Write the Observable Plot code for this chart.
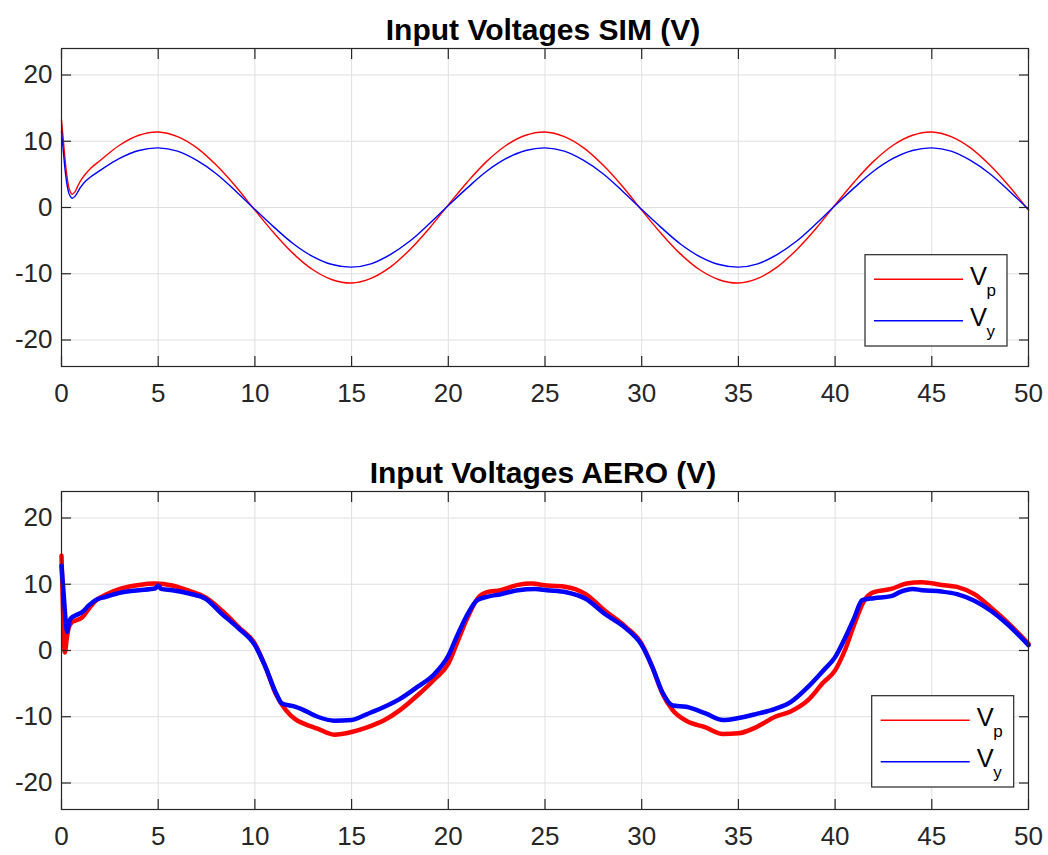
<!DOCTYPE html>
<html><head><meta charset="utf-8">
<script src="https://cdn.jsdelivr.net/npm/d3@7"></script>
<script src="https://cdn.jsdelivr.net/npm/@observablehq/plot@0.6"></script>
<style>
html,body{margin:0;padding:0;background:#fff;}
#root{position:relative;width:1048px;height:855px;overflow:hidden;font-family:"Liberation Sans",Arial,sans-serif;}
.plot{position:absolute;left:0;}
#overlay{position:absolute;left:0;top:0;}
</style></head><body><div id="root"></div>
<script>
// ---------- data ----------
const tSim = [0,0.1,0.2,0.3,0.4,0.55,0.7,0.85,1,1.25,1.5,2,
  3,4,5,6,7,8,9,10,11,12,13,14,15,16,17,18,19,20,21,22,23,24,25,26,27,28,29,30,
  31,32,33,34,35,36,37,38,39,40,41,42,43,44,45,46,47,48,49,50];
const vpSim = [13.2,10.0,6.8,4.4,2.8,2.0,2.4,3.3,4.1,5.1,5.9,7.1,
  9.4,10.9,11.4,10.7,9.0,6.4,3.2,-0.4,
  -3.9,-7.0,-9.4,-10.9,-11.4,-10.7,-9.0,-6.4,-3.2,0.4,
  3.9,7.0,9.4,10.9,11.4,10.7,9.0,6.4,3.2,-0.4,
  -3.9,-7.0,-9.4,-10.9,-11.4,-10.7,-9.0,-6.4,-3.2,0.4,
  3.9,7.0,9.4,10.9,11.4,10.7,9.0,6.4,3.2,-0.4];
const vySim = [11.5,8.3,5.3,3.2,2.0,1.4,1.7,2.4,3.1,4.0,4.6,5.6,
  7.4,8.6,9.0,8.5,7.1,5.1,2.5,-0.3,
  -3.0,-5.5,-7.4,-8.6,-9.0,-8.5,-7.1,-5.1,-2.5,0.3,
  3.0,5.5,7.4,8.6,9.0,8.5,7.1,5.1,2.5,-0.3,
  -3.0,-5.5,-7.4,-8.6,-9.0,-8.5,-7.1,-5.1,-2.5,0.3,
  3.0,5.5,7.4,8.6,9.0,8.5,7.1,5.1,2.5,-0.3];

const tAeroP = [0,0.08,0.17,0.28,0.38,0.55,0.72,1.07,1.41,1.76,2.28,3.14,4.0,4.86,5.72,6.6,7.45,8.3,9.17,10.0,
  10.55,11.07,11.6,12.1,12.5,13.24,14.1,15.0,15.8,16.7,17.5,18.4,19.3,20.0,20.5,21.0,21.5,22.0,22.7,23.6,24.3,
  25.1,26.1,27.1,28.1,29.2,30.0,30.55,31.07,31.6,32.3,33.3,34.2,35.0,35.9,36.9,37.7,38.6,39.4,40.0,40.5,41.0,
  41.5,42.0,42.9,43.7,44.5,45.5,46.3,47.2,48.05,48.9,50];
const vpAero = [14.3,6.0,-0.3,2.0,3.5,4.3,4.5,5.0,6.3,7.5,8.4,9.4,9.9,10.1,9.8,9.0,8.0,6.0,3.5,1.0,
  -2.5,-6.5,-9.0,-10.4,-11.0,-11.8,-12.7,-12.3,-11.6,-10.5,-9.0,-6.8,-4.3,-2.0,1.5,5.0,7.8,8.8,9.1,9.9,10.1,
  9.8,9.6,8.5,6.0,3.5,1.0,-2.5,-6.5,-9.0,-10.6,-11.6,-12.6,-12.5,-11.6,-10.0,-9.2,-7.5,-4.8,-3.0,0.0,4.0,
  7.5,8.8,9.3,10.1,10.3,9.9,9.6,8.5,6.5,4.3,1.0];
const tAeroY = [0,0.1,0.2,0.29,0.38,0.47,0.72,1.07,1.41,1.76,2.28,3.14,4.0,4.86,5.0,5.15,5.72,6.6,7.45,8.3,9.17,10.0,
  10.55,11.07,11.4,12.1,12.38,13.24,14.1,15.0,15.8,16.7,17.5,18.4,19.3,20.0,20.5,21.0,21.5,22.0,22.7,23.6,24.5,
  25.1,26.1,27.1,28.1,29.2,30.0,30.55,31.07,31.6,32.3,33.3,34.2,35.0,35.9,36.9,37.7,38.6,39.4,40.0,40.5,41.0,
  41.4,42.0,42.9,43.4,44.0,44.5,45.5,46.3,47.2,48.05,48.9,50];
const vyAero = [12.8,9.0,5.0,2.8,4.0,4.8,5.3,5.8,6.8,7.6,8.1,8.8,9.1,9.4,9.8,9.3,9.1,8.6,7.8,5.5,3.3,0.8,
  -2.5,-6.3,-8.0,-8.5,-8.8,-10.0,-10.6,-10.5,-9.6,-8.5,-7.3,-5.5,-3.5,-0.8,2.5,5.5,7.6,8.1,8.5,9.1,9.3,
  9.1,8.8,7.8,5.5,3.3,0.8,-2.5,-6.3,-8.3,-8.5,-9.5,-10.5,-10.2,-9.6,-8.8,-7.8,-5.5,-3.0,-1.0,1.8,5.0,
  7.6,7.9,8.2,8.9,9.3,9.1,8.9,8.5,7.5,6.0,4.0,0.8];

const xTicks = [0,5,10,15,20,25,30,35,40,45,50];
const yTicks = [-20,-10,0,10,20];
const titles = ["Input Voltages SIM (V)", "Input Voltages AERO (V)"];
const legendMain = ["V","V"];
const legendSub = ["p","y"];
const colors = ["#ff0000","#0000ff"];

// ---------- drawing ----------
const root = document.getElementById("root");
const FONT = "Liberation Sans, Arial, Helvetica, sans-serif";
const INK = "#262626";
const GRID = "#dfdfdf";

function makePlot(tP, vP, tY, vY, o) {
  const dP = tP.map((t, i) => ({t, v: vP[i]}));
  const dY = tY.map((t, i) => ({t, v: vY[i]}));
  return Plot.plot({
    width: 1048, height: o.height,
    marginLeft: 61, marginRight: 20, marginTop: o.mt, marginBottom: o.mb,
    style: {fontFamily: FONT, fontSize: "26px", color: INK, background: "transparent", overflow: "visible"},
    x: {domain: [0, 50], label: null},
    y: {domain: [-24, 24], label: null},
    marks: [
      Plot.gridX({ticks: xTicks, stroke: GRID, strokeOpacity: 1}),
      Plot.gridY({ticks: yTicks, stroke: GRID, strokeOpacity: 1}),
      Plot.line(dP, {x: "t", y: "v", stroke: colors[0], strokeWidth: o.sw, curve: o.curve}),
      Plot.line(dY, {x: "t", y: "v", stroke: colors[1], strokeWidth: o.sw, curve: o.curve}),
      Plot.frame({stroke: INK, strokeWidth: 1.2}),
      Plot.axisX({anchor: "bottom", ticks: xTicks, tickSize: 0, tickPadding: 17, tickFormat: d => String(d), label: null, fill: INK}),
      Plot.axisX({anchor: "bottom", ticks: xTicks, tickSize: -10, tickFormat: () => "", label: null, stroke: INK, strokeWidth: 1.2}),
      Plot.axisX({anchor: "top", ticks: xTicks, tickSize: -10, tickFormat: () => "", label: null, stroke: INK, strokeWidth: 1.2}),
      Plot.axisY({anchor: "left", ticks: yTicks, tickSize: 0, tickPadding: 9, tickFormat: d => String(d), label: null, fill: INK}),
      Plot.axisY({anchor: "left", ticks: yTicks, tickSize: -10, tickFormat: () => "", label: null, stroke: INK, strokeWidth: 1.2}),
      Plot.axisY({anchor: "right", ticks: yTicks, tickSize: -10, tickFormat: () => "", label: null, stroke: INK, strokeWidth: 1.2})
    ]
  });
}

const p1 = makePlot(tSim, vpSim, tSim, vySim, {height: 420, mt: 48, mb: 54, sw: 1.4, curve: "catmull-rom"});
p1.classList.add("plot"); p1.style.top = "0px"; p1.style.position = "absolute";
root.appendChild(p1);

const p2 = makePlot(tAeroP, vpAero, tAeroY, vyAero, {height: 414, mt: 50, mb: 46, sw: 4.5, curve: "monotone-x"});
p2.classList.add("plot"); p2.style.top = "441px"; p2.style.position = "absolute";
root.appendChild(p2);

// overlay: titles + legends
const svg = d3.select(root).append("svg").attr("id", "overlay")
  .attr("width", 1048).attr("height", 855)
  .style("position", "absolute").style("left", 0).style("top", 0)
  .style("font-family", FONT);

[40, 483].forEach((y, i) => {
  svg.append("text").attr("x", 543).attr("y", y).attr("text-anchor", "middle")
    .attr("font-size", 30).attr("font-weight", "bold").attr("fill", "#000").text(titles[i]);
});

const legends = [{x: 865, y: 254.7}, {x: 871.7, y: 695.7}];
legends.forEach(L => {
  const g = svg.append("g").attr("transform", `translate(${L.x},${L.y})`);
  g.append("rect").attr("x", 0).attr("y", 0).attr("width", 142).attr("height", 91.3)
    .attr("fill", "#fff").attr("stroke", INK).attr("stroke-width", 1.2);
  [0, 1].forEach(k => {
    const ly = 24.6 + k * 41.4;
    g.append("line").attr("x1", 9).attr("x2", 98).attr("y1", ly).attr("y2", ly)
      .attr("stroke", colors[k]).attr("stroke-width", 1.4);
    g.append("text").attr("x", 105).attr("y", 30.3 + k * 41.4).attr("font-size", 25.5).attr("fill", "#000").text(legendMain[k]);
    g.append("text").attr("x", 121.5).attr("y", 40.9 + k * 41.4).attr("font-size", 17).attr("fill", "#000").text(legendSub[k]);
  });
});
</script>
</body></html>
